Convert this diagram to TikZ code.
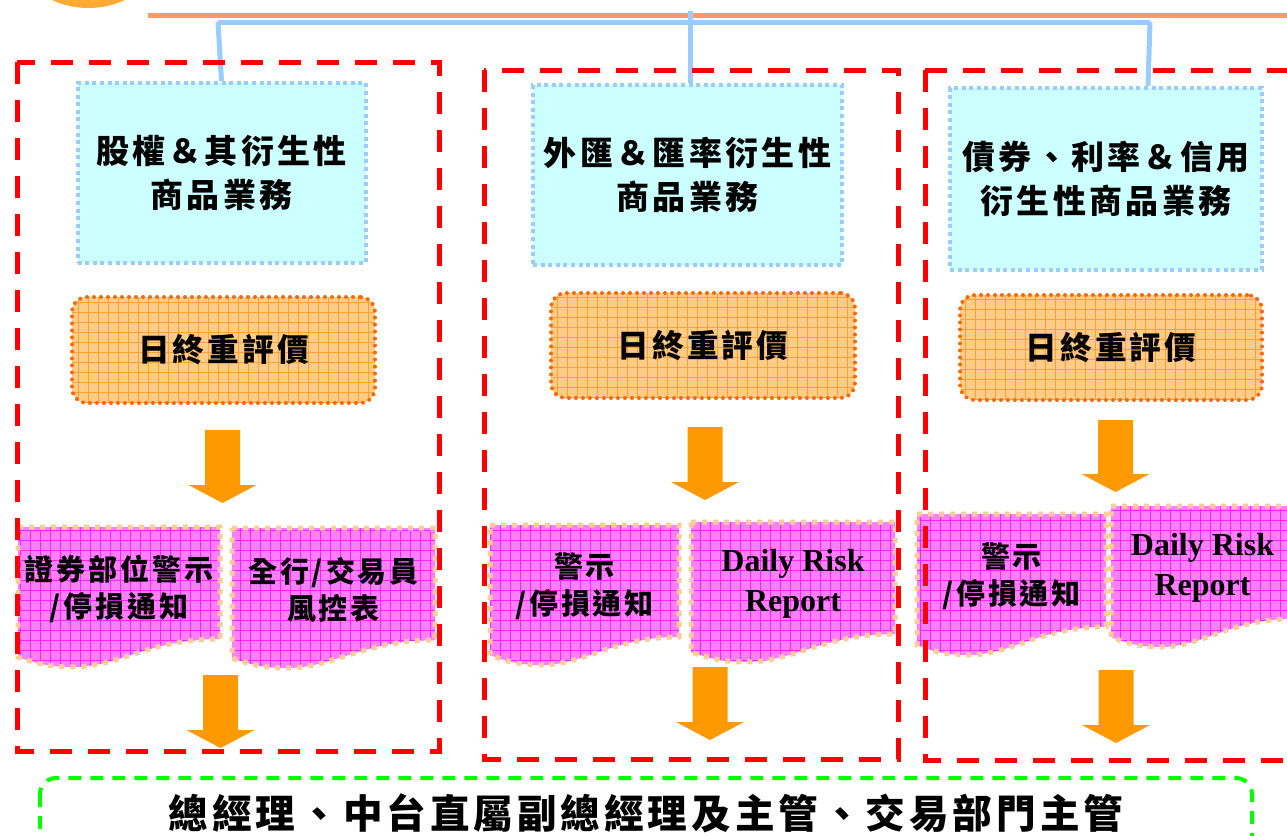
\documentclass[tikz,border=0pt]{standalone}
\usepackage{fontspec}
\newfontfamily\cjk[LetterSpace=10]{Noto Sans CJK TC}
\newfontfamily\rptfont{Liberation Serif}
\usepackage{xcolor}
\usepackage{tikz}
\usetikzlibrary{calc,positioning}
\definecolor{bizfill}{HTML}{CCFFFF}
\definecolor{linkblue}{HTML}{99CCFF}
\definecolor{topline}{HTML}{FF9966}
\definecolor{evalfill}{HTML}{FFCC88}
\definecolor{evalgrid}{HTML}{FFA033}
\definecolor{evaldot}{HTML}{FF6600}
\definecolor{docpink}{HTML}{FF80FF}
\definecolor{docgrid}{HTML}{FF22FF}
\definecolor{docdot}{HTML}{FFCC99}
\definecolor{flowcol}{HTML}{FF9900}
\definecolor{framered}{HTML}{FF0000}
\definecolor{framegreen}{HTML}{00FF00}
\definecolor{logocol}{HTML}{FFAA33}

% block arrow: x, top, tip
\newcommand\flowarrow[3]{%
  \fill[flowcol] (#1-17.5,#2) -- (#1+17.5,#2) -- (#1+17.5,#3-18) -- (#1+34,#3-18)
    -- (#1,#3) -- (#1-34,#3-18) -- (#1-17.5,#3-18) -- cycle;}
% document sheet: name, x1, top, x2, lowest, style, text
\newcommand\docsheet[7]{%
  \path[docfill] (#2,#3) -- (#4,#3) -- (#4,{#3+0.8*(#5-#3)})
    .. controls ({#4-0.35*(#4-#2)},{#3+0.8*(#5-#3)}) and ({#2+0.5*(#4-#2)},#5) .. ({#2+0.27*(#4-#2)},#5)
    .. controls ({#2+0.12*(#4-#2)},#5) and ({#2+0.05*(#4-#2)},{#3+0.95*(#5-#3)}) .. (#2,{#3+0.93*(#5-#3)})
    -- cycle;
  \node[#6] (#1) at ({(#2+#4)/2},{#3+0.44*(#5-#3)}) {#7};}

\begin{document}
\begin{tikzpicture}[
    x = 0.5pt, y = -0.5pt,
    bizbox/.style={
        rectangle, % shape
        fill = bizfill,
        draw = linkblue, line width = 2pt, dash pattern = on 2pt off 1.8pt,
        inner sep = 0pt, align = center,
        font = \cjk\bfseries\fontsize{16.5}{22}\selectfont
      },
    evalbox/.style={
        rectangle, rounded corners = 7.5pt,
        fill = evalfill,
        draw = evaldot, line width = 2pt, line cap = round, dash pattern = on 0pt off 3.5pt,
        path picture = {\draw[evalgrid, solid, line width = 0.4pt, step = 5pt]
          (path picture bounding box.south west) grid (path picture bounding box.north east);},
        inner sep = 0pt,
        font = \cjk\bfseries\fontsize{15.8}{18}\selectfont
      },
    docfill/.style={
        fill = docpink,
        draw = docdot, line width = 2.5pt, dash pattern = on 2.5pt off 3pt,
        path picture = {\draw[docgrid, solid, line width = 0.4pt, step = 5pt]
          (path picture bounding box.south west) grid (path picture bounding box.north east);}
      },
    doctext/.style={align = center, font = \cjk\bfseries\fontsize{14.5}{18.5}\selectfont},
    rpttext/.style={align = center, font = \rptfont\bfseries\fontsize{16}{20}\selectfont},
    linkline/.style={draw = linkblue, line width = 2.5pt},
    riskframe/.style={draw = framered, line width = 2.5pt, dash pattern = on 11pt off 8pt},
    bossframe/.style={draw = framegreen, line width = 2pt, dash pattern = on 6.5pt off 4.5pt,
        rounded corners = 8pt}
  ]
  \useasboundingbox (0,0) rectangle (1287,836);
  \clip (0,0) rectangle (1287,836);

  % logo and top lines
  \fill[logocol] (88.5,-79) circle (87);
  \draw[topline, line width = 2.5pt] (148,15) -- (1295,15);
  \coordinate (barL) at (218,22);
  \coordinate (barR) at (1150,22);
  \coordinate (hubM) at (690,11);
  \draw[linkline] (barL) -- (barR);

  % business lines
  \node[bizbox, minimum width = 144pt, minimum height = 90pt] (biz1) at (221.5,173) {股權＆其衍生性\\商品業務};
  \node[bizbox, minimum width = 154.5pt, minimum height = 90pt] (biz2) at (687.5,175) {外匯＆匯率衍生性\\商品業務};
  \node[bizbox, minimum width = 156pt, minimum height = 91pt] (biz3) at (1106,179) {債券、利率＆信用\\衍生性商品業務};
  \draw[linkline] (barL) -- (biz1.north);
  \draw[linkline] (hubM) -- (biz2.north -| hubM);
  \draw[linkline] (barR) -- ([xshift = 21pt]biz3.north);

  % end of day revaluation
  \node[evalbox, minimum width = 151.5pt, minimum height = 53pt] (eval1) at (223.5,350) {日終重評價};
  \node[evalbox, minimum width = 152pt, minimum height = 52.5pt] (eval2) at (703,345.5) {日終重評價};
  \node[evalbox, minimum width = 151pt, minimum height = 52.5pt] (eval3) at (1111,347.5) {日終重評價};

  \flowarrow{222.5}{430}{503}
  \flowarrow{705}{427}{500}
  \flowarrow{1115.5}{420}{492}

  % reports
  \docsheet{warn1}{18}{527}{220}{667}{doctext}{證券部位警示\\/停損通知}
  \docsheet{desk1}{232}{528}{435}{668}{doctext}{全行/交易員\\風控表}
  \docsheet{warn2}{490}{525}{679}{665}{doctext}{警示\\/停損通知}
  \docsheet{rpt2}{691}{522}{895}{662}{rpttext}{Daily Risk\\Report}
  \docsheet{warn3}{917}{514}{1106}{655}{doctext}{警示\\/停損通知}
  \docsheet{rpt3}{1111}{506}{1294}{647}{rpttext}{Daily Risk\\Report}

  \flowarrow{220.5}{675}{748}
  \flowarrow{710}{667}{740}
  \flowarrow{1116}{670}{743}

  % frames
  \draw[riskframe] (17,62) rectangle (439,751);
  \draw[riskframe] (484,70) rectangle (898,759);
  \draw[riskframe] (925,70) rectangle (1310,760);
  \draw[bossframe] (40,778) rectangle (1252,870);
  \node[font = \cjk\bfseries\fontsize{19.8}{22}\selectfont] (boss) at (646,813)
    {總經理、中台直屬副總經理及主管、交易部門主管};
\end{tikzpicture}
\end{document}
